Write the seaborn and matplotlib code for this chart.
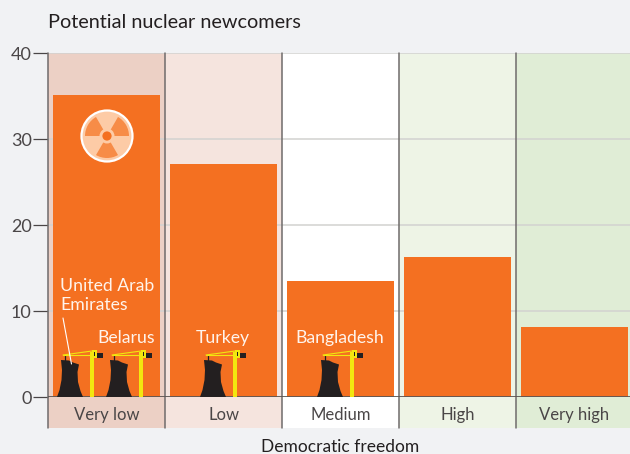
"""Potential nuclear newcomers by democratic freedom, bar chart with small plant icons."""

import pandas as pd
import seaborn as sns
import matplotlib.pyplot as plt
from matplotlib.patches import Circle, Polygon, Rectangle, Wedge
from matplotlib.transforms import Affine2D

# 1. Data
categories = ["Very low", "Low", "Medium", "High", "Very high"]
newcomers = [35.1, 27.1, 13.5, 16.3, 8.1]
y_ticks = [0, 10, 20, 30, 40]
band_colors = ["#ecd0c5", "#f5e4de", "#ffffff", "#eef4e6", "#e0edd6"]

BAR = "#f47021"
BG = "#f1f2f4"
INK = "#4a4647"
DARK = "#231f20"
YELLOW = "#f2e70f"
W, H = 630, 454

sns.set_theme(style="white")
plt.rcParams['font.family'] = ['Lato', 'DejaVu Sans']

fig = plt.figure(figsize=(W / 100, H / 100), dpi=100, facecolor=BG)
ax = fig.add_axes([48 / W, 1 - 397 / H, 582 / W, 344 / H])
# reference pixel coordinates, only for the decoration
px = Affine2D().scale(1 / W, -1 / H).translate(0, 1) + fig.transFigure

df = pd.DataFrame({"freedom": categories, "count": newcomers})
sns.barplot(data=df, x="freedom", y="count", color=BAR, saturation=1, width=0.915,
            linewidth=0, ax=ax, zorder=3)

ax.set_xlim(-0.5, 4.474)
ax.set_ylim(0, 40)
ax.set_facecolor("none")

# Bands and dividers run on below the zero line, behind the category labels
for i, color in enumerate(band_colors):
    ax.axvspan(i - 0.5, i + 0.5, ymin=-0.09, ymax=1, color=color, lw=0, clip_on=False, zorder=0)
    ax.axvline(i - 0.5, ymin=-0.09, ymax=1, color="#6f6b6b", lw=1.1, clip_on=False, zorder=2)
for y in y_ticks[1:]:
    ax.axhline(y, color="#d2d2d0", lw=1.1, zorder=1)
ax.axhline(0, color="#5c5654", lw=1.3, zorder=4)

sns.despine(ax=ax, left=True, bottom=True, top=True, right=True)
ax.set_yticks(y_ticks)
ax.tick_params(axis="y", length=10.8, width=0.9, color=INK, labelcolor=INK, labelsize=13, pad=1, left=True)
ax.tick_params(axis="x", length=0, labelcolor=INK, labelsize=12, pad=7)
ax.set_ylabel("")
ax.set_xlabel("Democratic freedom", fontsize=12.5, color=DARK, labelpad=12, x=0.502)

fig.text(48 / W, 1 - 22 / H, "Potential nuclear newcomers", fontsize=14.3, color=DARK, va="center")


def add_plant(left):
    """Cooling tower plus crane, left is the tower's left edge in reference pixels."""
    tower = [(0, 397), (2.5, 390), (4.5, 380), (5, 370), (4, 360), (12, 360.5), (16, 362.5),
             (22, 364.5), (20.5, 372), (21, 382), (23.5, 391), (26, 397)]
    ax.add_patch(Polygon([(left + a, b) for a, b in tower], closed=True, fc=DARK, ec="none",
                         transform=px, zorder=5, clip_on=False))
    ax.plot([left + 7.5, left + 7.5], [355, 361], color=DARK, lw=0.9, transform=px, zorder=5)
    ax.plot([left + 6, left + 35], [355, 355], color=YELLOW, lw=0.8, transform=px, zorder=5)
    ax.plot([left + 6, left + 35], [355, 351], color=YELLOW, lw=0.8, transform=px, zorder=5)
    ax.add_patch(Rectangle((left + 33, 352), 4, 45, fc=YELLOW, ec="none", transform=px, zorder=5))
    ax.add_patch(Rectangle((left + 35, 350), 5, 7.5, fc=YELLOW, ec="none", transform=px, zorder=5))
    ax.add_patch(Rectangle((left + 36.5, 351.5), 1.6, 4, fc=DARK, ec="none", transform=px, zorder=6))
    ax.add_patch(Rectangle((left + 40, 353), 6, 5, fc=DARK, ec="none", transform=px, zorder=5))


for left in [57, 106, 200, 317]:
    add_plant(left)

# Radiation badge on the first bar
cx, cy = 107, 136
ax.add_patch(Circle((cx, cy), 25.5, fc="#fdcba6", ec="white", lw=1.6, transform=px, zorder=5))
for start in [180, 300, 60]:
    # px flips y, so angles run clockwise on screen
    ax.add_patch(Wedge((cx, cy), 22, start, start + 60, fc="#f78c47", ec="none", transform=px, zorder=6))
ax.add_patch(Circle((cx, cy), 7.5, fc="#fdcba6", ec="none", transform=px, zorder=7))
ax.add_patch(Circle((cx, cy), 4.6, fc=BAR, ec="none", transform=px, zorder=8))

# Country labels
label_style = dict(color="#fff4ec", fontsize=12.7, transform=px, zorder=7)
ax.text(60, 286, "United Arab", va="center", ha="left", **label_style)
ax.text(60, 305, "Emirates", va="center", ha="left", **label_style)
ax.text(126, 338, "Belarus", va="center", ha="center", **label_style)
ax.text(223, 338, "Turkey", va="center", ha="center", **label_style)
ax.text(340, 338, "Bangladesh", va="center", ha="center", **label_style)
ax.plot([63, 71.5], [318, 364], color="white", lw=0.8, transform=px, zorder=7)

fig.savefig("out.png", dpi=100, facecolor=BG)
